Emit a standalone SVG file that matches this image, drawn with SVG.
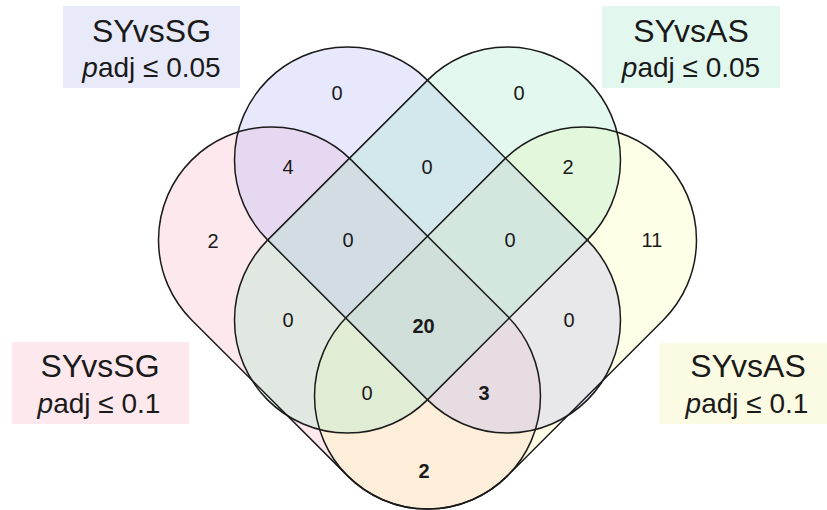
<svg xmlns="http://www.w3.org/2000/svg" width="827" height="510" viewBox="0 0 827 510">
  <style>
    .set { fill-opacity: 0.3; stroke: none; }
    .outline { fill: none; stroke: #1a1a1a; stroke-width: 1.5; }
    .num { font-family: "Liberation Sans", Arial, sans-serif; font-size: 20px; fill: #1a1a1a; text-anchor: middle; }
    .bold { font-weight: bold; }
    .title { font-family: "Liberation Sans", Arial, sans-serif; font-size: 32px; fill: #1a1a1a; text-anchor: middle; }
    .sub { font-family: "Liberation Sans", Arial, sans-serif; font-size: 28px; fill: #1a1a1a; text-anchor: middle; }
  </style>
  <defs>
    <rect id="longStadium" x="-226.14" y="-113" width="452.28" height="226" rx="113" ry="113"/>
    <rect id="shortStadium" x="-223.3" y="-113" width="446.6" height="226" rx="113" ry="113"/>
  </defs>
  <rect width="827" height="510" fill="#ffffff"/>

  <g id="fills">
    <use href="#shortStadium" class="set" fill="#F8B2C6" transform="translate(349.5,318) rotate(45)"/>
    <use href="#shortStadium" class="set" fill="#FFFCAC" transform="translate(505.5,318) rotate(-45)"/>
    <use href="#longStadium" class="set" fill="#B2B2F5" transform="translate(427.5,240) rotate(45)"/>
    <use href="#longStadium" class="set" fill="#A2E8C6" transform="translate(427.5,240) rotate(-45)"/>
  </g>

  <g id="set-SYvsSG-005">
    <use href="#longStadium" class="outline" transform="translate(427.5,240) rotate(45)"/>
  </g>
  <g id="set-SYvsAS-005">
    <use href="#longStadium" class="outline" transform="translate(427.5,240) rotate(-45)"/>
  </g>
  <g id="set-SYvsSG-01">
    <use href="#shortStadium" class="outline" transform="translate(349.5,318) rotate(45)"/>
  </g>
  <g id="set-SYvsAS-01">
    <use href="#shortStadium" class="outline" transform="translate(505.5,318) rotate(-45)"/>
  </g>

  <g id="counts">
    <text class="num" x="337" y="100">0</text>
    <text class="num" x="519" y="100">0</text>
    <text class="num" x="288" y="174">4</text>
    <text class="num" x="427" y="174">0</text>
    <text class="num" x="568" y="174">2</text>
    <text class="num" x="213" y="248">2</text>
    <text class="num" x="348" y="247">0</text>
    <text class="num" x="510" y="247">0</text>
    <text class="num" x="652" y="247">11</text>
    <text class="num" x="288" y="327">0</text>
    <text class="num bold" x="423.5" y="333">20</text>
    <text class="num" x="569" y="327">0</text>
    <text class="num" x="367" y="400">0</text>
    <text class="num bold" x="484" y="400">3</text>
    <text class="num bold" x="424" y="478">2</text>
  </g>

  <g id="label-SYvsSG-005">
    <rect x="63" y="6" width="177" height="82" fill="#E8EAF9"/>
    <text class="title" x="151.5" y="42">SYvsSG</text>
    <text class="sub" x="151.5" y="77"><tspan font-style="italic">p</tspan>adj ≤ 0.05</text>
  </g>
  <g id="label-SYvsAS-005">
    <rect x="602" y="6" width="178" height="82" fill="#E2F7EE"/>
    <text class="title" x="691" y="42">SYvsAS</text>
    <text class="sub" x="691" y="77"><tspan font-style="italic">p</tspan>adj ≤ 0.05</text>
  </g>
  <g id="label-SYvsSG-01">
    <rect x="12" y="342" width="177" height="82" fill="#FDE8EE"/>
    <text class="title" x="100" y="377">SYvsSG</text>
    <text class="sub" x="99" y="413"><tspan font-style="italic">p</tspan>adj ≤ 0.1</text>
  </g>
  <g id="label-SYvsAS-01">
    <rect x="659" y="343" width="178" height="81" fill="#FBFBE4"/>
    <text class="title" x="748" y="377">SYvsAS</text>
    <text class="sub" x="747" y="413"><tspan font-style="italic">p</tspan>adj ≤ 0.1</text>
  </g>
</svg>
